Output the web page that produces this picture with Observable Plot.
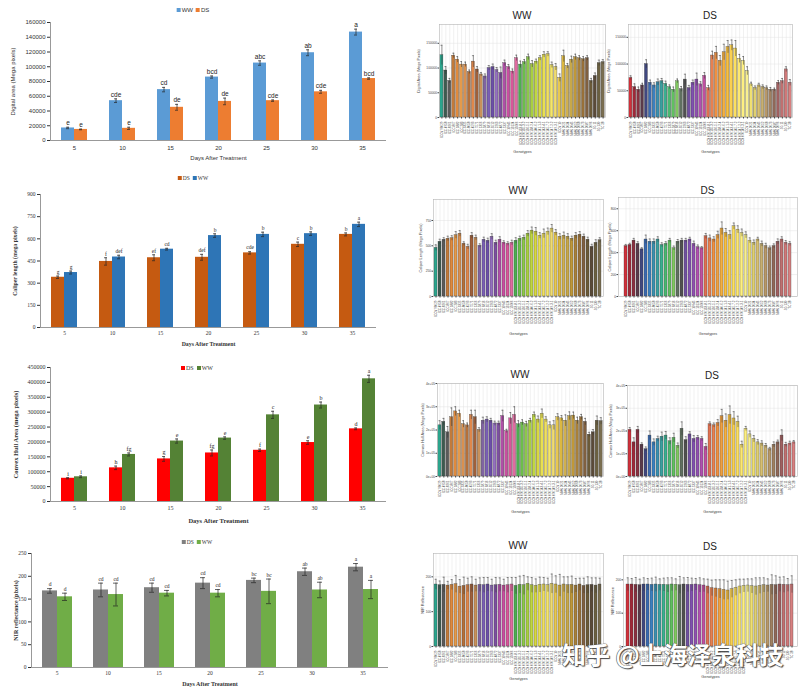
<!DOCTYPE html>
<html><head><meta charset="utf-8">
<script src="https://cdn.jsdelivr.net/npm/d3@7"></script>
<script src="https://cdn.jsdelivr.net/npm/@observablehq/plot@0.6"></script>
<style>
body{margin:0;background:#fff}
#root{position:relative;width:800px;height:687px;background:#fff;overflow:hidden}
.abs{position:absolute}
.serif g[aria-label="y-axis label"] text, .serif g[aria-label="fx-axis label"] text{font-weight:bold}
.leg{position:absolute;white-space:nowrap;transform:translateX(-50%);display:flex;align-items:center;gap:3px}
.leg i{display:inline-block;width:4px;height:4px;margin-right:1px}
.ttl{position:absolute;font-family:"Liberation Sans",Arial,sans-serif;font-size:10px;color:#222;transform:translateX(-50%)}
.wm{position:absolute;left:562px;top:636px;font-family:"Noto Sans CJK SC",sans-serif;font-weight:bold;font-size:24px;color:#fff;white-space:nowrap;text-shadow:1px 1px 1px #444,-0.5px -0.5px 0.5px #666,0 0 1px #333;letter-spacing:0px}
</style></head>
<body><div id="root"></div>
<script>
// ---------- left panels: treatment time course ----------
const days = [5, 10, 15, 20, 25, 30, 35];

const daWW = [17000, 54000, 69000, 86000, 105000, 119000, 147000];
const daWWErr = [1000, 2500, 3000, 1500, 3000, 4000, 4000];
const daWWLet = ["e", "cde", "cd", "bcd", "abc", "ab", "a"];
const daDS = [15000, 16500, 45000, 53000, 54000, 66000, 84000];
const daDSErr = [500, 1500, 4000, 4500, 1000, 2000, 1000];
const daDSLet = ["e", "e", "de", "de", "cde", "cde", "bcd"];

const clDS = [340, 447, 472, 475, 505, 563, 630];
const clDSErr = [8, 25, 20, 20, 8, 15, 10];
const clDSLet = ["g", "f", "ef", "def", "cde", "c", "b"];
const clWW = [372, 477, 530, 622, 630, 635, 698];
const clWWErr = [10, 12, 6, 12, 15, 12, 15];
const clWWLet = ["g", "def", "cd", "b", "b", "b", "a"];

const chDS = [78000, 113000, 143000, 163000, 172000, 198000, 244000];
const chDSErr = [2000, 6000, 8000, 10000, 4000, 6000, 3000];
const chDSLet = ["i", "h", "g", "fg", "f", "e", "d"];
const chWW = [83000, 158000, 203000, 213000, 291000, 324000, 412000];
const chWWErr = [3000, 5000, 7000, 4000, 12000, 10000, 12000];
const chWWLet = ["i", "fg", "e", "e", "c", "b", "a"];

const nirDS = [168, 170, 175, 185, 191, 210, 220];
const nirDSErr = [5, 15, 10, 12, 5, 8, 8];
const nirDSLet = ["d", "cd", "cd", "cd", "bc", "ab", "a"];
const nirWW = [155, 160, 163, 163, 167, 170, 171];
const nirWWErr = [8, 25, 6, 8, 27, 17, 20];
const nirWWLet = ["d", "cd", "cd", "cd", "bc", "ab", "a"];

// ---------- right panels: genotypes ----------
const genotypes = ["ICCV 96029","ICC 4958","ICC 8261","ICC 867","ICC 1882","ICC 283","ICC 3325","ICC 8058","ICC 4593","ICC 7571","ICC 1356","ICC 5879","ICC 6816","ICC 3512","ICC 2263","ICC 4872","ICC 5337","ICC 10945","ICC 13124","ICC 15606","ICCX 070133-8-1","ICCX 070135-3-2","ICCX 070136-5-1","ICCX 070138-2-4","ICCX 070140-6-2","ICCX 070141-1-3","ICCX 070143-4-1","ICCX 070145-7-2","ICCX 070147-2-2","ICCX 070149-3-1","ICCV 10","NMK 2021","NMK 2034","NMK 2045","NMK 2052","NMK 2068","NMK 2073","NMK 2087","NMK 2096","JG 11","JG 130","TC 28"];

const gDaWW = [126000,95000,74000,125000,117000,107000,107000,92000,113000,97000,87000,83000,100000,102000,96000,90000,110000,102000,93000,120000,107000,112000,122000,108000,113000,120000,127000,128000,106000,102000,80000,124000,104000,117000,122000,120000,118000,120000,74000,84000,110000,112000];
const gDaWWErr = [20000,8000,5000,5000,6000,6000,5000,4000,12000,6000,4000,5000,5000,6000,5000,12000,6000,5000,5000,6000,7000,5000,6000,7000,5000,5000,6000,5000,6000,7000,8000,12000,5000,7000,6000,5000,5000,5000,5000,6000,6000,5000];
const gDaDS = [74000,57000,52000,60000,100000,65000,60000,66000,68000,63000,57000,52000,68000,53000,71000,55000,65000,71000,62000,78000,55000,116000,121000,106000,122000,132000,135000,129000,110000,106000,87000,62000,55000,60000,57000,55000,52000,52000,65000,68000,90000,65000];
const gDaDSErr = [4000,6000,5000,4000,8000,5000,5000,6000,5000,5000,4000,5000,4000,5000,10000,5000,5000,12000,5000,6000,5000,8000,12000,10000,15000,12000,10000,15000,8000,8000,8000,4000,4000,4000,4000,4000,4000,3000,4000,5000,5000,6000];

const gClWW = [480,540,560,570,575,605,620,520,490,600,580,500,560,550,590,530,560,530,520,530,550,570,580,620,650,640,600,620,640,670,630,590,600,590,570,600,610,590,560,490,530,555];
const gClWWErr = [30,25,20,25,25,35,30,20,25,30,25,20,25,25,30,25,30,20,20,25,30,25,25,30,35,40,30,45,35,40,30,30,35,30,25,30,30,25,25,25,30,25];
const gClDS = [460,470,510,480,430,520,500,500,520,470,480,510,440,500,510,510,520,480,450,440,550,530,520,560,620,580,560,640,610,580,560,510,490,520,480,460,440,460,500,520,490,480];
const gClDSErr = [15,15,20,20,15,40,25,25,25,20,20,20,20,20,20,20,20,25,20,15,25,30,25,35,60,40,40,30,35,35,30,25,25,20,25,25,20,20,25,25,20,20];

const gChWW = [220000,235000,190000,255000,280000,270000,225000,220000,265000,255000,200000,240000,245000,240000,228000,228000,260000,195000,250000,265000,225000,232000,225000,240000,265000,245000,270000,245000,220000,220000,255000,250000,240000,260000,262000,240000,255000,235000,180000,190000,240000,238000];
const gChWWErr = [20000,15000,25000,40000,20000,15000,15000,10000,20000,30000,10000,15000,12000,10000,10000,10000,25000,8000,25000,35000,15000,12000,12000,10000,12000,15000,20000,12000,15000,20000,15000,12000,25000,18000,15000,15000,12000,15000,10000,12000,20000,15000];
const gChDS = [205000,150000,205000,140000,120000,180000,150000,165000,175000,180000,155000,170000,135000,210000,160000,185000,165000,170000,165000,130000,230000,225000,235000,265000,245000,270000,255000,240000,140000,210000,185000,165000,150000,145000,135000,120000,140000,150000,180000,140000,145000,150000];
const gChDSErr = [10000,20000,15000,8000,10000,20000,15000,12000,20000,18000,15000,20000,12000,30000,15000,12000,15000,10000,10000,15000,10000,10000,15000,30000,30000,40000,30000,25000,15000,10000,15000,15000,12000,12000,10000,8000,12000,10000,25000,10000,10000,8000];

const gNirWW = [178,176,177,175,177,179,172,174,176,178,175,177,176,178,175,176,177,175,176,178,174,177,176,180,176,174,177,178,176,180,178,175,178,176,177,175,178,174,176,177,175,178];
const gNirWWErr = [15,12,22,12,15,25,20,25,20,22,18,20,22,20,18,22,20,18,22,20,24,25,28,20,22,20,22,20,20,28,25,32,22,24,25,20,18,22,24,20,22,18];
const gNirDS = [186,186,185,184,186,186,185,186,185,185,184,186,185,184,186,185,185,186,184,183,180,175,174,172,170,168,172,176,180,182,183,181,180,182,184,183,185,184,186,185,184,186];
const gNirDSErr = [20,18,22,18,20,18,20,22,18,20,22,20,18,26,20,22,20,18,22,20,22,24,26,28,30,28,26,24,22,20,20,22,26,24,22,20,30,28,22,24,20,26];

// palettes (styles)
const paletteWW = ["#2ca58d","#3d5a50","#5a5a5a","#c27a3a","#e08a3c","#e59a4a","#d9904f","#b5703a","#e0874a","#a0603a","#c9915a","#8064a2","#7a5fb5","#6c4fa8","#9470c0","#7d4fa0","#b04fa8","#c84fa0","#d8559a","#e06aa0","#4caf50","#6cbf4a","#8cc84a","#a8d040","#c0d840","#d8d840","#e8e050","#f0e060","#f5e66a","#f0dc70","#e8c850","#dcb840","#d0b050","#c8a848","#c09838","#a8803a","#987038","#806040","#6b5a38","#5a4a38","#6b6040","#7a6e50"];
const paletteDS = ["#d0303a","#a02838","#8a3040","#5a3a4a","#404880","#3a6ab0","#3a80c0","#3a90b0","#3aa0a0","#3ab090","#4ab870","#60c060","#80c860","#607060","#505050","#7050a0","#8050b0","#9050b0","#b050b0","#c050a0","#e07050","#e88050","#f09040","#f0a040","#f5b040","#f8c040","#fad050","#fce060","#fde870","#fef080","#f8f090","#f0e070","#e0d070","#d8c070","#c8b070","#b89868","#a08060","#906858","#a06060","#c07070","#d07878","#d88080"];

const root = document.getElementById("root");
const fmtD = d3.format("d");
function place(node, left, top) {
  node.classList.add("abs");
  node.style.left = left + "px";
  node.style.top = top + "px";
  root.append(node);
  return node;
}

function groupedChart(cfg) {
  const rows = [];
  cfg.series.forEach(s => days.forEach((d, i) => rows.push({day: d, series: s.name, value: s.values[i], err: s.errs[i], letter: s.letters[i]})));
  const names = cfg.series.map(s => s.name);
  const svg = Plot.plot({
    width: cfg.width, height: cfg.height,
    marginLeft: cfg.ml, marginRight: cfg.mr, marginTop: cfg.mt, marginBottom: cfg.mb,
    style: {fontFamily: cfg.font, fontSize: cfg.fs + "px", color: "#333", background: "transparent"},
    fx: {domain: days, padding: 0},
    x: {domain: names, paddingInner: 0, paddingOuter: cfg.pad, axis: null},
    y: {domain: cfg.yDomain},
    color: {domain: names, range: cfg.colors},
    marks: [
      Plot.frame({anchor: "left", facetAnchor: "left", stroke: "#999"}),
      Plot.ruleY([0], {stroke: "#999"}),
      Plot.barY(rows, {fx: "day", x: "series", y: "value", fill: "series"}),
      Plot.ruleX(rows, {fx: "day", x: "series", y1: d => d.value - d.err, y2: d => d.value + d.err, stroke: "#222", strokeWidth: 0.7}),
      Plot.tickY(rows, {fx: "day", x: "series", y: d => d.value + d.err, insetLeft: 5, insetRight: 5, stroke: "#222", strokeWidth: 0.7}),
      Plot.tickY(rows, {fx: "day", x: "series", y: d => d.value - d.err, insetLeft: 5, insetRight: 5, stroke: "#222", strokeWidth: 0.7}),
      Plot.text(rows, {fx: "day", x: "series", y: d => d.value + d.err, text: "letter", dy: -4, fontSize: cfg.lfs, fill: "#222"}),
      Plot.axisY({ticks: cfg.yTicks, tickFormat: fmtD, tickSize: 3, tickPadding: 2, fontSize: cfg.fs, label: cfg.yLabel, labelAnchor: "center", labelOffset: cfg.ylo, labelArrow: "none"}),
      Plot.axisFx({anchor: "bottom", tickSize: 0, tickPadding: cfg.tp, fontSize: cfg.fs, label: "Days After Treatment", labelAnchor: "center", labelOffset: cfg.xlo})
    ]
  });
  svg.querySelectorAll('g[aria-label="y-axis label"] text, g[aria-label="fx-axis label"] text').forEach(t => t.setAttribute("font-size", cfg.afs));
  if (cfg.serif) svg.classList.add("serif");
  return svg;
}

function legend(items, x, y, font, fs) {
  const d = document.createElement("div");
  d.className = "leg";
  d.style.left = x + "px"; d.style.top = y + "px";
  d.style.fontFamily = font; d.style.fontSize = fs + "px"; d.style.color = "#333";
  items.forEach(([name, col]) => {
    const s = document.createElement("span");
    const i = document.createElement("i"); i.style.background = col;
    s.append(i, document.createTextNode(name));
    d.append(s);
  });
  root.append(d);
}

const sansL = "'Liberation Sans', Arial, sans-serif";
const serifL = "'Liberation Serif', 'Times New Roman', serif";

// Row 1
place(groupedChart({
  width: 400, height: 162, ml: 48, mr: 12, mt: 22, mb: 22, font: sansL, fs: 6, afs: 6, lfs: 6.5, tp: 5, pad: 0.73,
  series: [{name: "WW", values: daWW, errs: daWWErr, letters: daWWLet}, {name: "DS", values: daDS, errs: daDSErr, letters: daDSLet}],
  colors: ["#5b9bd5", "#ed7d31"], yDomain: [0, 160000], yTicks: d3.range(0, 160001, 20000),
  yLabel: "Digital area (Mega pixels)", ylo: 40, xlo: 19
}), 0, 0);
legend([["WW", "#5b9bd5"], ["DS", "#ed7d31"]], 193, 7, sansL, 6);

// Row 2
place(groupedChart({
  width: 400, height: 180, ml: 38, mr: 23, mt: 24, mb: 23, font: serifL, fs: 5.5, afs: 5.8, lfs: 5.5, tp: 4, pad: 0.73, serif: true,
  series: [{name: "DS", values: clDS, errs: clDSErr, letters: clDSLet}, {name: "WW", values: clWW, errs: clWWErr, letters: clWWLet}],
  colors: ["#c55a11", "#2e75b6"], yDomain: [0, 900], yTicks: d3.range(0, 901, 150),
  yLabel: "Caliper length (mega pixels)", ylo: 28, xlo: 18
}), 0, 170);
legend([["DS", "#c55a11"], ["WW", "#2e75b6"]], 193, 175, serifL, 5.5);

// Row 3
place(groupedChart({
  width: 400, height: 170, ml: 48, mr: 12, mt: 12, mb: 24, font: serifL, fs: 6, afs: 6.5, lfs: 6, tp: 4, pad: 0.73, serif: true,
  series: [{name: "DS", values: chDS, errs: chDSErr, letters: chDSLet}, {name: "WW", values: chWW, errs: chWWErr, letters: chWWLet}],
  colors: ["#ff0000", "#548235"], yDomain: [0, 450000], yTicks: d3.range(0, 450001, 50000),
  yLabel: "Convex Hull Area (mega pixels)", ylo: 37, xlo: 21
}), 0, 355);
legend([["DS", "#ff0000"], ["WW", "#548235"]], 197, 365, serifL, 6);

// Row 4
place(groupedChart({
  width: 400, height: 157, ml: 31, mr: 12, mt: 23, mb: 20, font: serifL, fs: 5.5, afs: 6, lfs: 5.5, tp: 4, pad: 0.7, serif: true,
  series: [{name: "DS", values: nirDS, errs: nirDSErr, letters: nirDSLet}, {name: "WW", values: nirWW, errs: nirWWErr, letters: nirWWLet}],
  colors: ["#808080", "#70ad47"], yDomain: [0, 250], yTicks: d3.range(0, 251, 50),
  yLabel: "NIR reflectance (pixels)", ylo: 18, xlo: 18
}), 0, 530);
legend([["DS", "#808080"], ["WW", "#70ad47"]], 197, 539, serifL, 5.5);

// ---------- genotype panels ----------
function genoChart(cfg) {
  const rows = genotypes.map((g, i) => ({g, v: cfg.values[i], e: cfg.errs[i]}));
  const [L, T, W, H] = cfg.box;
  const [x0, x1, y0, y1] = cfg.frame;
  const svg = Plot.plot({
    width: W, height: H,
    marginLeft: x0 - L, marginRight: L + W - x1, marginTop: y0 - T, marginBottom: T + H - y1,
    style: {fontFamily: sansL, fontSize: "3.5px", color: "#444", background: "transparent"},
    x: {domain: genotypes, padding: 0.22},
    y: {domain: cfg.yDomain},
    color: {domain: genotypes, range: cfg.palette},
    marks: [
      Plot.gridX({stroke: "#e2e2e2", strokeOpacity: 1, strokeWidth: 0.5}),
      Plot.gridY({ticks: cfg.yTicks, stroke: "#e2e2e2", strokeOpacity: 1, strokeWidth: 0.5}),
      Plot.barY(rows, {x: "g", y: "v", fill: "g", stroke: "#333", strokeWidth: 0.3}),
      Plot.ruleX(rows, {x: "g", y1: d => d.v - d.e, y2: d => d.v + d.e, stroke: "#333", strokeWidth: 0.5}),
      Plot.tickY(rows, {x: "g", y: d => d.v + d.e, stroke: "#333", strokeWidth: 0.5, insetLeft: 0.6, insetRight: 0.6}),
      Plot.frame({stroke: "#b5b5b5", strokeWidth: 0.6}),
      Plot.axisY({ticks: cfg.yTicks, tickFormat: cfg.fmt || fmtD, tickSize: 1.5, tickPadding: 1, fontSize: 3.2, label: cfg.yLabel, labelAnchor: "center", labelOffset: cfg.ylo, labelArrow: "none"}),
      Plot.axisX({tickRotate: -90, tickSize: 1.5, tickPadding: 2.5, fontSize: 3, label: "Genotypes", labelAnchor: "center", labelOffset: cfg.xlo})
    ]
  });
  svg.querySelectorAll('g[aria-label="y-axis label"] text, g[aria-label="x-axis label"] text').forEach(t => t.setAttribute("font-size", 3.8));
  place(svg, L, T);
  const t = document.createElement("div");
  t.className = "ttl"; t.textContent = cfg.title;
  t.style.left = ((x0 + x1) / 2) + "px"; t.style.top = cfg.ty + "px";
  root.append(t);
}
const fmtE = d => d === 0 ? "0e+00" : (d / 1e5) + "e+05";

genoChart({title: "WW", ty: 10, box: [410, 0, 198, 160], frame: [439, 605, 24, 117], values: gDaWW, errs: gDaWWErr, palette: paletteWW,
  yDomain: [0, 188000], yTicks: [0, 50000, 100000, 150000], yLabel: "Digital Area (Mega Pixels)", ylo: 22, xlo: 35});
genoChart({title: "DS", ty: 10, box: [606, 0, 194, 160], frame: [628, 792, 24, 117], values: gDaDS, errs: gDaDSErr, palette: paletteDS,
  yDomain: [0, 174000], yTicks: [0, 50000, 100000, 150000], yLabel: "Digital Area (Mega Pixels)", ylo: 21, xlo: 35});

genoChart({title: "WW", ty: 185, box: [410, 180, 196, 165], frame: [433, 603, 199, 296], values: gClWW, errs: gClWWErr, palette: paletteWW,
  yDomain: [0, 957], yTicks: [0, 250, 500, 750], yLabel: "Caliper Length (Mega Pixels)", ylo: 14, xlo: 38});
genoChart({title: "DS", ty: 185, box: [606, 180, 194, 165], frame: [618, 797, 197, 296], values: gClDS, errs: gClDSErr, palette: paletteDS,
  yDomain: [0, 903], yTicks: [0, 200, 400, 600, 800], yLabel: "Caliper Length (Mega Pixels)", ylo: 10, xlo: 38});

genoChart({title: "WW", ty: 369, box: [410, 360, 196, 165], frame: [437, 603, 383, 476], values: gChWW, errs: gChWWErr, palette: paletteWW,
  yDomain: [0, 400000], yTicks: [0, 100000, 200000, 300000, 400000], fmt: fmtE, yLabel: "Convex Hull Area (Mega Pixels)", ylo: 16, xlo: 36});
genoChart({title: "DS", ty: 370, box: [606, 360, 194, 165], frame: [627, 797, 385, 476], values: gChDS, errs: gChDSErr, palette: paletteDS,
  yDomain: [0, 400000], yTicks: [0, 100000, 200000, 300000, 400000], fmt: fmtE, yLabel: "Convex Hull Area (Mega Pixels)", ylo: 18, xlo: 36});

genoChart({title: "WW", ty: 540, box: [410, 540, 196, 147], frame: [433, 603, 553, 646], values: gNirWW, errs: gNirWWErr, palette: paletteWW,
  yDomain: [0, 267], yTicks: [0, 100, 200], yLabel: "NIR Reflectance", ylo: 12, xlo: 33});
genoChart({title: "DS", ty: 541, box: [606, 540, 194, 147], frame: [623, 797, 555, 646], values: gNirDS, errs: gNirDSErr, palette: paletteDS,
  yDomain: [0, 273], yTicks: [0, 100, 200], yLabel: "NIR Reflectance", ylo: 12, xlo: 31});

// watermark
const wm = document.createElement("div");
wm.className = "wm"; wm.textContent = "知乎 @上海泽泉科技";
root.append(wm);
</script>
</body></html>
